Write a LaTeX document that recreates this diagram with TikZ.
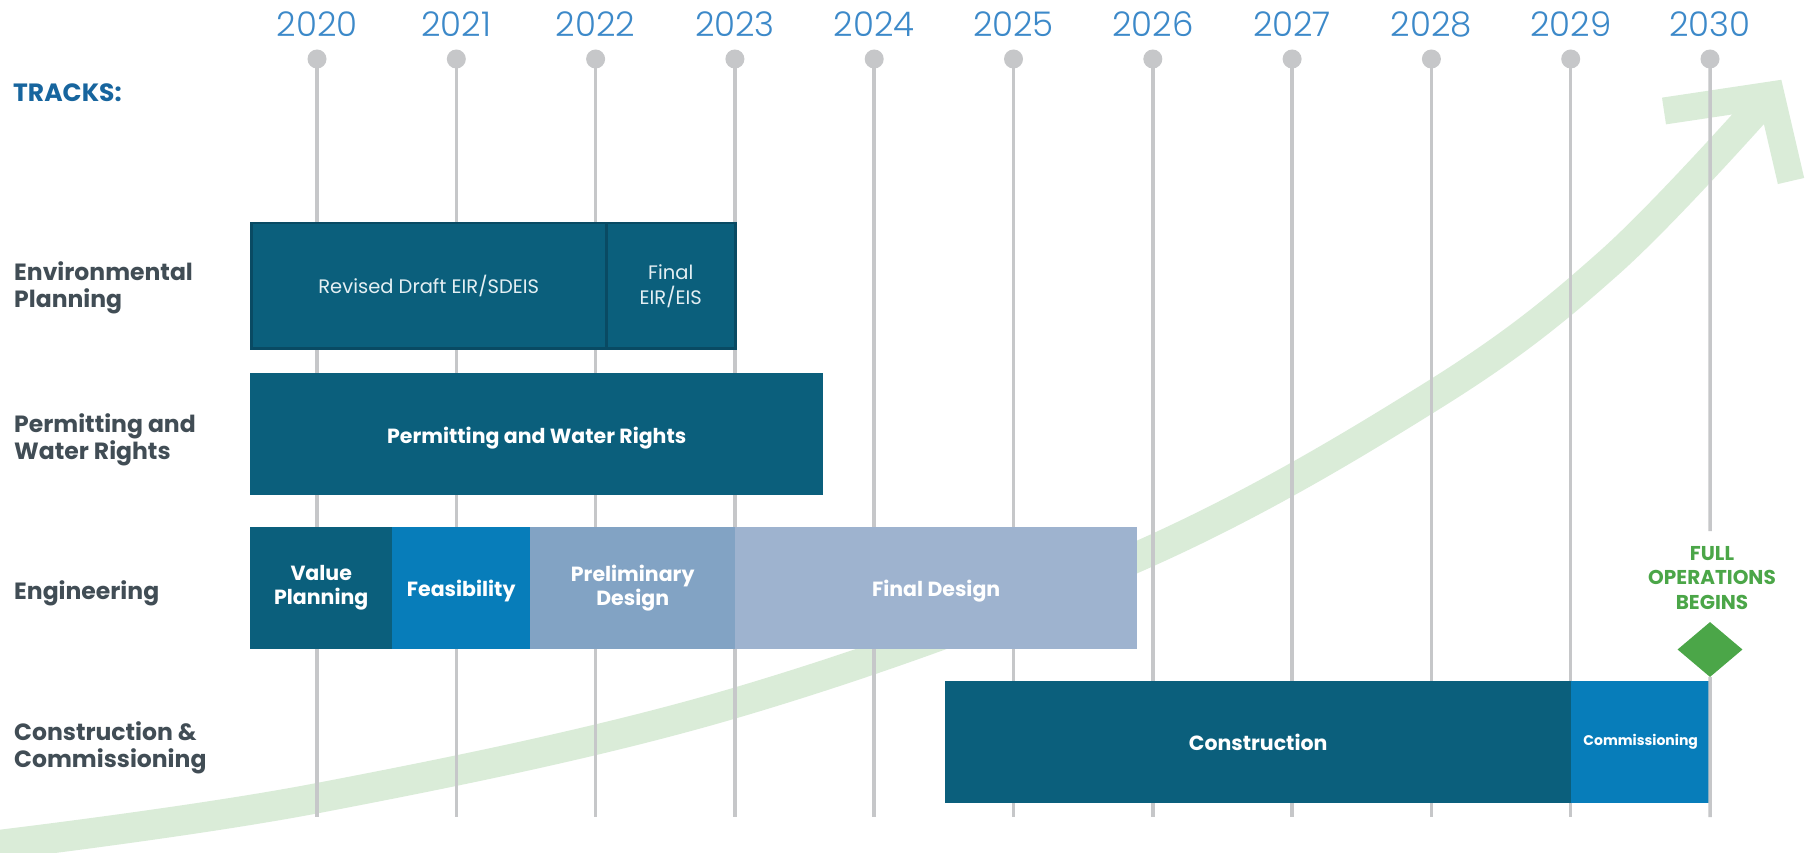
\documentclass[tikz,border=0pt]{standalone}
\usepackage{fontspec}
\setmainfont{Poppins}
\newfontfamily\yearfont{Poppins Light}
\usetikzlibrary{shapes.geometric}
\definecolor{cTeal}{HTML}{0B5F7C}
\definecolor{cDark}{HTML}{094A63}
\definecolor{cBlue}{HTML}{077DBA}
\definecolor{cPrelim}{HTML}{82A3C4}
\definecolor{cFinal}{HTML}{9EB3CF}
\definecolor{cLight}{HTML}{E4EFF3}
\definecolor{cGray}{HTML}{C6C7C9}
\definecolor{cYear}{HTML}{3C89C9}
\definecolor{cTrack}{HTML}{17659E}
\definecolor{cLabel}{HTML}{414D55}
\definecolor{cGreen}{HTML}{4BA648}
\definecolor{cBand}{HTML}{DAECD8}
\tikzset{
  bar/.style={rectangle, inner sep=0pt, anchor=north west, text=white, align=center,
    font=\bfseries\fontsize{20.5}{24}\selectfont},
  vline/.style={draw=cGray, line width=3.5pt},
  dotnode/.style={circle, fill=cGray, inner sep=0pt, minimum size=19pt},
  yearlabel/.style={text=cYear, font=\yearfont\fontsize{34}{38}\selectfont, inner sep=0pt},
  tracklabel/.style={anchor=west, align=left, text=cLabel, inner sep=0pt,
    font=\bfseries\fontsize{23.5}{27.5}\selectfont},
  band/.style={draw=cBand, line width=30pt},
}
\begin{document}
\begin{tikzpicture}[x=1pt,y=-1pt]
\useasboundingbox (0,0) rectangle (1815,853);
\fill[white] (0,0) rectangle (1815,853);
% green growth arrow
\draw[band] plot[smooth, tension=0.6] coordinates {(-10,846) (318,798) (735,703) (1137,557) (1432,396) (1610,262) (1768,97)};
\draw[band, line width=27pt, line join=miter, miter limit=10] (1664,111) -- (1771,95) -- (1791,181);
% timeline
\foreach \i/\yr in {0/2020,1/2021,2/2022,3/2023,4/2024,5/2025,6/2026,7/2027,8/2028,9/2029,10/2030}{
  \pgfmathsetmacro{\xx}{317+139.3*\i}
  \node[yearlabel] (y\i) at (\xx,24) {\yr};
  \node[dotnode] (d\i) at (\xx,59) {};
  \coordinate (b\i) at (\xx,817);
}
\foreach \i in {0,...,9}{ \draw[vline] (d\i.center) -- (b\i); }
\coordinate (cut10) at (1710,531);
\draw[vline] (d10.center) -- (cut10);
% tracks
\node[anchor=west, text=cTrack, inner sep=0pt, font=\bfseries\fontsize{25}{28}\selectfont] (tracks) at (13,93) {TRACKS:};
\node[tracklabel] (lenv) at (14,288) {Environmental\\Planning};
\node[tracklabel] (lperm) at (14,440) {Permitting and\\Water Rights};
\node[tracklabel] (leng) at (14,593) {Engineering};
\node[tracklabel] (lcon) at (14,748) {Construction \&\\Commissioning};
% environmental planning
\node[bar, fill=cTeal, draw=cDark, line width=2.5pt, minimum width=355pt, minimum height=125pt,
  text=cLight, font=\fontsize{19.5}{25}\selectfont] (envA) at (250,222) {Revised Draft EIR/SDEIS};
\node[bar, fill=cTeal, draw=cDark, line width=2.5pt, minimum width=129pt, minimum height=125pt,
  text=cLight, font=\fontsize{19.5}{25}\selectfont] (envB) at (605,222) {Final\\EIR/EIS};
% permitting
\node[bar, fill=cTeal, minimum width=573pt, minimum height=122pt] (perm) at (250,373) {\raisebox{-4pt}[\height][\depth]{Permitting and Water Rights}};
% engineering
\node[bar, fill=cTeal, minimum width=142pt, minimum height=122pt] (vp) at (250,527) {Value\\Planning};
\node[bar, fill=cBlue, minimum width=138pt, minimum height=122pt] (feas) at (392,527) {\raisebox{-3pt}[\height][\depth]{Feasibility}};
\node[bar, fill=cPrelim, minimum width=205pt, minimum height=122pt] (prel) at (530,527) {Preliminary\\Design};
\node[bar, fill=cFinal, minimum width=402pt, minimum height=122pt] (fin) at (735,527) {\raisebox{-3pt}[\height][\depth]{Final Design}};
% construction
\node[bar, fill=cTeal, minimum width=626pt, minimum height=122pt] (con) at (945,681) {Construction};
\node[bar, fill=cBlue, minimum width=139pt, minimum height=122pt, font=\bfseries\fontsize{14}{17}\selectfont] (com) at (1571,681) {Commissioning};
% milestone
\node[diamond, fill=cGreen, minimum width=65pt, minimum height=55pt, inner sep=0pt] (dia) at (1710,649.5) {};
\draw[vline] (dia.south) -- (b10);
\node[text=cGreen, align=center, inner sep=0pt, font=\bfseries\fontsize{20}{24.5}\selectfont] (fo) at (1712,578) {FULL\\OPERATIONS\\BEGINS};
\end{tikzpicture}
\end{document}
